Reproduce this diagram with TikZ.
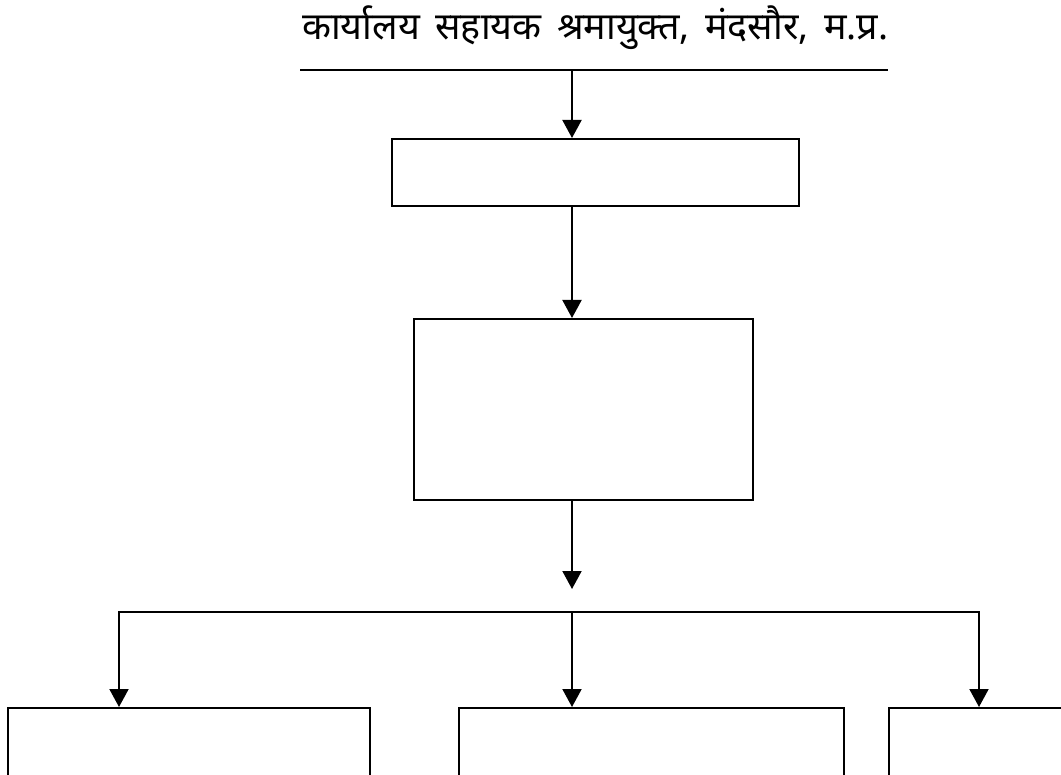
\documentclass[tikz,border=0pt]{standalone}
\usepackage{graphicx}
\usepackage{fontspec}
\newfontfamily\deva[Script=Devanagari]{Noto Sans}
\usetikzlibrary{arrows.meta}
\begin{document}
\begin{tikzpicture}[x=1pt,y=-1pt,
  box/.style={draw, line width=2pt, rectangle, inner sep=0pt, anchor=north west},
  arr/.style={line width=2pt, -{Triangle[length=18pt,width=19pt]}},
  ln/.style={line width=2pt}]
\useasboundingbox (0,0) rectangle (1061,775);
\clip (0,0) rectangle (1061,775);
\fill[white] (0,0) rectangle (1061,775);
% title
\node[anchor=base west, inner sep=0pt] (title) at (302,40)
  {\resizebox{586pt}{!}{\deva कार्यालय\hspace{0.15em} सहायक\hspace{0.15em} श्रमायुक्त,\hspace{0.15em} मंदसौर,\hspace{0.15em} म.प्र.}};
\coordinate (tl) at (300,70);
\coordinate (tr) at (888,70);
\coordinate (tm) at (572,70);
\draw[ln] (tl) -- (tr);
% boxes
\node[box, minimum width=407pt, minimum height=67pt] (b1) at (391,138) {};
\node[box, minimum width=339pt, minimum height=181pt] (b2) at (413,318) {};
\node[box, minimum width=362pt, minimum height=90pt] (c1) at (7,707) {};
\node[box, minimum width=385pt, minimum height=90pt] (c2) at (458,707) {};
\node[box, minimum width=200pt, minimum height=90pt] (c3) at (888,707) {};
% connectors
\draw[arr] (tm) -- (b1.north -| tm);
\draw[arr] (b1.south -| tm) -- (b2.north -| tm);
\coordinate (end2) at (572,589);
\draw[arr] (b2.south -| tm) -- (end2);
\coordinate (hl) at (119,612);
\coordinate (hm) at (572,612);
\coordinate (hr) at (979,612);
\draw[arr] (hm) -- (hl) -- (c1.north -| hl);
\draw[arr] (hm) -- (hr) -- (c3.north -| hr);
\draw[arr] (hm) -- (c2.north -| hm);
\end{tikzpicture}
\end{document}
